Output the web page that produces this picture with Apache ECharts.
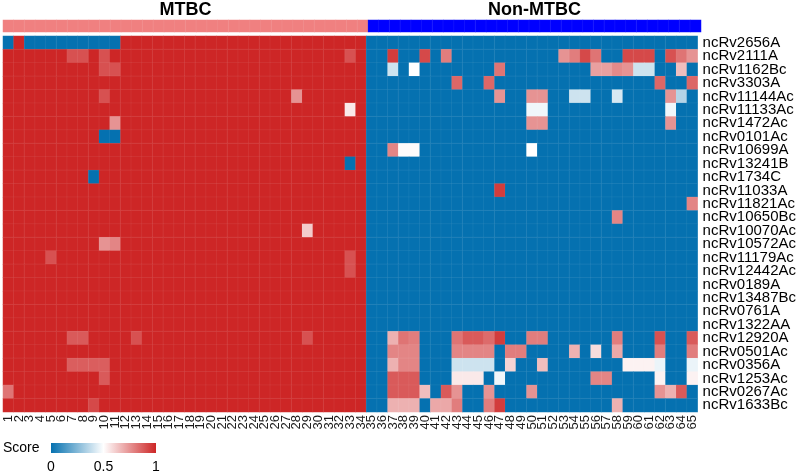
<!DOCTYPE html>
<html>
<head>
<meta charset="utf-8">
<script src="https://cdn.jsdelivr.net/npm/echarts@6/dist/echarts.min.js"></script>
<style>html,body{margin:0;padding:0;background:#fff}#c{width:799px;height:473px}</style>
</head>
<body>
<div id="c"></div>
<script>
const rowNames = ['ncRv2656A','ncRv2111A','ncRv1162Bc','ncRv3303A','ncRv11144Ac','ncRv11133Ac','ncRv1472Ac','ncRv0101Ac','ncRv10699A','ncRv13241B','ncRv1734C','ncRv11033A','ncRv11821Ac','ncRv10650Bc','ncRv10070Ac','ncRv10572Ac','ncRv11179Ac','ncRv12442Ac','ncRv0189A','ncRv13487Bc','ncRv0761A','ncRv1322AA','ncRv12920A','ncRv0501Ac','ncRv0356A','ncRv1253Ac','ncRv0267Ac','ncRv1633Bc'];

const colLabels = ['1','2','3','4','5','6','7','8','9','10','11','12','13','14','15','16','17','18','19','20','21','22','23','24','25','26','27','28','29','30','31','32','33','34','35','36','37','38','39','40','41','42','43','44','45','46','47','48','49','50','51','52','53','54','55','56','57','58','59','60','61','62','63','64','65'];

const groupNames = ['MTBC','Non-MTBC'];
// group index of each column (0 = MTBC, 1 = Non-MTBC)
const columnGroup = [0,0,0,0,0,0,0,0,0,0, 0,0,0,0,0,0,0,0,0,0, 0,0,0,0,0,0,0,0,0,0, 0,0,0,0,1,1,1,1,1,1, 1,1,1,1,1,1,1,1,1,1, 1,1,1,1,1,1,1,1,1,1, 1,1,1,1,1];

const legendTicks = [0, 0.5, 1];

// scores[row][column], columns 1..65
const scores = [
 [0,1,0,0,0,0,0,0,0,0, 0,1,1,1,1,1,1,1,1,1, 1,1,1,1,1,1,1,1,1,1, 1,1,1,1,0,0,0,0,0,0, 0,0,0,0,0,0,0,0,0,0, 0,0,0,0,0,0,0,0,0,0, 0,0,0,0,0],
 [1,1,1,1,1,1,.9,.9,1,.9, 1,1,1,1,1,1,1,1,1,1, 1,1,1,1,1,1,1,1,1,1, 1,1,.9,1,0,0,.95,0,0,.92, 0,.8,0,0,0,0,0,0,0,0, 0,0,.75,.8,.92,.82,0,0,.92,.92, .92,0,.9,.82,.75],
 [1,1,1,1,1,1,1,1,1,.9, .9,1,1,1,1,1,1,1,1,1, 1,1,1,1,1,1,1,1,1,1, 1,1,1,1,0,0,.4,0,.5,0, 0,0,0,0,0,0,.82,0,0,0, 0,0,0,0,0,.72,.72,.77,.75,.4, .4,0,0,.65,0],
 [1,1,1,1,1,1,1,1,1,1, 1,1,1,1,1,1,1,1,1,1, 1,1,1,1,1,1,1,1,1,1, 1,1,1,1,0,0,0,0,0,0, 0,0,.85,0,0,.85,0,0,0,0, 0,0,0,0,0,0,0,0,0,0, 0,.85,0,0,.85],
 [1,1,1,1,1,1,1,1,1,.9, 1,1,1,1,1,1,1,1,1,1, 1,1,1,1,1,1,1,.75,1,1, 1,1,1,1,0,0,0,0,0,0, 0,0,0,0,0,0,.75,0,0,.75, .75,0,0,.4,.4,0,0,.42,0,0, 0,0,.75,.35,0],
 [1,1,1,1,1,1,1,1,1,1, 1,1,1,1,1,1,1,1,1,1, 1,1,1,1,1,1,1,1,1,1, 1,1,.55,1,0,0,0,0,0,0, 0,0,0,0,0,0,0,0,0,.47, .47,0,0,0,0,0,0,0,0,0, 0,0,.47,0,0],
 [1,1,1,1,1,1,1,1,1,1, .75,1,1,1,1,1,1,1,1,1, 1,1,1,1,1,1,1,1,1,1, 1,1,1,1,0,0,0,0,0,0, 0,0,0,0,0,0,0,0,0,.75, .75,0,0,0,0,0,0,0,0,0, 0,0,.75,0,0],
 [1,1,1,1,1,1,1,1,1,0, 0,1,1,1,1,1,1,1,1,1, 1,1,1,1,1,1,1,1,1,1, 1,1,1,1,0,0,0,0,0,0, 0,0,0,0,0,0,0,0,0,0, 0,0,0,0,0,0,0,0,0,0, 0,0,0,0,0],
 [1,1,1,1,1,1,1,1,1,1, 1,1,1,1,1,1,1,1,1,1, 1,1,1,1,1,1,1,1,1,1, 1,1,1,1,0,0,.78,.51,.51,0, 0,0,0,0,0,0,0,0,0,.5, 0,0,0,0,0,0,0,0,0,0, 0,0,0,0,0],
 [1,1,1,1,1,1,1,1,1,1, 1,1,1,1,1,1,1,1,1,1, 1,1,1,1,1,1,1,1,1,1, 1,1,0,1,0,0,0,0,0,0, 0,0,0,0,0,0,0,0,0,0, 0,0,0,0,0,0,0,0,0,0, 0,0,0,0,0],
 [1,1,1,1,1,1,1,1,0,1, 1,1,1,1,1,1,1,1,1,1, 1,1,1,1,1,1,1,1,1,1, 1,1,1,1,0,0,0,0,0,0, 0,0,0,0,0,0,0,0,0,0, 0,0,0,0,0,0,0,0,0,0, 0,0,0,0,0],
 [1,1,1,1,1,1,1,1,1,1, 1,1,1,1,1,1,1,1,1,1, 1,1,1,1,1,1,1,1,1,1, 1,1,1,1,0,0,0,0,0,0, 0,0,0,0,0,0,.95,0,0,0, 0,0,0,0,0,0,0,0,0,0, 0,0,0,0,0],
 [1,1,1,1,1,1,1,1,1,1, 1,1,1,1,1,1,1,1,1,1, 1,1,1,1,1,1,1,1,1,1, 1,1,1,1,0,0,0,0,0,0, 0,0,0,0,0,0,0,0,0,0, 0,0,0,0,0,0,0,0,0,0, 0,0,0,0,.78],
 [1,1,1,1,1,1,1,1,1,1, 1,1,1,1,1,1,1,1,1,1, 1,1,1,1,1,1,1,1,1,1, 1,1,1,1,0,0,0,0,0,0, 0,0,0,0,0,0,0,0,0,0, 0,0,0,0,0,0,0,.78,0,0, 0,0,0,0,0],
 [1,1,1,1,1,1,1,1,1,1, 1,1,1,1,1,1,1,1,1,1, 1,1,1,1,1,1,1,1,.62,1, 1,1,1,1,0,0,0,0,0,0, 0,0,0,0,0,0,0,0,0,0, 0,0,0,0,0,0,0,0,0,0, 0,0,0,0,0],
 [1,1,1,1,1,1,1,1,1,.75, .78,1,1,1,1,1,1,1,1,1, 1,1,1,1,1,1,1,1,1,1, 1,1,1,1,0,0,0,0,0,0, 0,0,0,0,0,0,0,0,0,0, 0,0,0,0,0,0,0,0,0,0, 0,0,0,0,0],
 [1,1,1,1,.9,1,1,1,1,1, 1,1,1,1,1,1,1,1,1,1, 1,1,1,1,1,1,1,1,1,1, 1,1,.9,1,0,0,0,0,0,0, 0,0,0,0,0,0,0,0,0,0, 0,0,0,0,0,0,0,0,0,0, 0,0,0,0,0],
 [1,1,1,1,1,1,1,1,1,1, 1,1,1,1,1,1,1,1,1,1, 1,1,1,1,1,1,1,1,1,1, 1,1,.9,1,0,0,0,0,0,0, 0,0,0,0,0,0,0,0,0,0, 0,0,0,0,0,0,0,0,0,0, 0,0,0,0,0],
 [1,1,1,1,1,1,1,1,1,1, 1,1,1,1,1,1,1,1,1,1, 1,1,1,1,1,1,1,1,1,1, 1,1,1,1,0,0,0,0,0,0, 0,0,0,0,0,0,0,0,0,0, 0,0,0,0,0,0,0,0,0,0, 0,0,0,0,0],
 [1,1,1,1,1,1,1,1,1,1, 1,1,1,1,1,1,1,1,1,1, 1,1,1,1,1,1,1,1,1,1, 1,1,1,1,0,0,0,0,0,0, 0,0,0,0,0,0,0,0,0,0, 0,0,0,0,0,0,0,0,0,0, 0,0,0,0,0],
 [1,1,1,1,1,1,1,1,1,1, 1,1,1,1,1,1,1,1,1,1, 1,1,1,1,1,1,1,1,1,1, 1,1,1,1,0,0,0,0,0,0, 0,0,0,0,0,0,0,0,0,0, 0,0,0,0,0,0,0,0,0,0, 0,0,0,0,0],
 [1,1,1,1,1,1,1,1,1,1, 1,1,1,1,1,1,1,1,1,1, 1,1,1,1,1,1,1,1,1,1, 1,1,1,1,0,0,0,0,0,0, 0,0,0,0,0,0,0,0,0,0, 0,0,0,0,0,0,0,0,0,0, 0,0,0,0,0],
 [1,1,1,1,1,1,.88,.88,1,1, 1,1,.9,1,1,1,1,1,1,1, 1,1,1,1,1,1,1,1,.9,1, 1,1,1,1,0,0,.68,.82,.8,0, 0,0,.82,.88,.88,.84,.95,0,0,.8, .8,0,0,0,0,0,0,.8,0,0, 0,.9,0,0,.88],
 [1,1,1,1,1,1,1,1,1,1, 1,1,1,1,1,1,1,1,1,1, 1,1,1,1,1,1,1,1,1,1, 1,1,1,1,0,0,.78,.78,.78,0, 0,0,.78,.78,.78,.78,0,.8,.8,0, 0,0,0,.68,0,.58,0,.7,0,0, 0,.8,0,0,.8],
 [1,1,1,1,1,1,.87,.87,.87,.87, 1,1,1,1,1,1,1,1,1,1, 1,1,1,1,1,1,1,1,1,1, 1,1,1,1,0,0,.68,.78,.78,0, 0,0,.4,.4,.4,.4,0,.6,0,0, .65,0,0,0,0,0,0,0,.53,.53, .53,.46,0,0,.46],
 [1,1,1,1,1,1,1,1,1,.88, 1,1,1,1,1,1,1,1,1,1, 1,1,1,1,1,1,1,1,1,1, 1,1,1,1,0,0,.88,.88,.88,0, 0,0,.55,.55,.55,0,.47,0,0,0, 0,0,0,0,0,.78,.78,0,0,0, 0,.53,0,0,.53],
 [.82,1,1,1,1,1,1,1,1,1, 1,1,1,1,1,1,1,1,1,1, 1,1,1,1,1,1,1,1,1,1, 1,1,1,1,0,0,.88,.88,.88,.65, 0,.88,.75,0,0,.75,0,0,0,.75, 0,0,0,0,0,0,0,0,0,0, 0,.75,.68,.88,0],
 [1,1,1,1,1,1,1,1,.92,1, 1,1,1,1,1,1,1,1,1,1, 1,1,1,1,1,1,1,1,1,1, 1,1,1,1,0,0,.68,.68,.68,0, .7,.7,.8,0,0,.8,.95,0,0,0, 0,0,0,0,0,0,0,.68,0,0, 0,0,0,0,0]
];

const LOW = '#0571B0', MID = '#FFFFFF', HIGH = '#CD2626';
const GROUP_COLORS = ['#F08080', '#0000FF'];
const FONT = 'Liberation Sans, Arial, sans-serif';

// layout
const G_LEFT = 3, G_TOP = 36, G_W = 698, G_H = 376;
const A_TOP = 20, A_H = 12;

const heatData = [];
scores.forEach((row, r) => row.forEach((v, c) => heatData.push([c, r, v])));
const annoData = columnGroup.map((g, c) => [c, 0, g]);

const colW = G_W / colLabels.length;
function groupCenter(gi) {
  let first = -1, last = -1;
  columnGroup.forEach((g, i) => { if (g === gi) { if (first < 0) first = i; last = i; } });
  return G_LEFT + (first + last + 1) / 2 * colW;
}

const chart = echarts.init(document.getElementById('c'), null, {renderer: 'canvas'});

const LEG_X = 51, LEG_Y = 443, LEG_W = 105, LEG_H = 10;
const graphics = [
  {type: 'text', x: groupCenter(0), y: 10, style: {text: groupNames[0], font: 'bold 18px ' + FONT, fill: '#000', align: 'center', verticalAlign: 'middle', textAlign: 'center', textVerticalAlign: 'middle'}},
  {type: 'text', x: groupCenter(1), y: 10, style: {text: groupNames[1], font: 'bold 18px ' + FONT, fill: '#000', align: 'center', verticalAlign: 'middle', textAlign: 'center', textVerticalAlign: 'middle'}},
  {type: 'text', x: 3, y: 448, style: {text: 'Score', font: '14px ' + FONT, fill: '#000', align: 'left', verticalAlign: 'middle', textAlign: 'left', textVerticalAlign: 'middle'}},
  {type: 'rect', shape: {x: LEG_X, y: LEG_Y, width: LEG_W, height: LEG_H},
   style: {fill: new echarts.graphic.LinearGradient(0, 0, 1, 0, [{offset: 0, color: LOW}, {offset: 0.5, color: MID}, {offset: 1, color: HIGH}])}}
];
legendTicks.forEach(t => {
  graphics.push({type: 'text', x: LEG_X + t * LEG_W, y: 467,
    style: {text: String(t), font: '14px ' + FONT, fill: '#000', align: 'center', verticalAlign: 'middle', textAlign: 'center', textVerticalAlign: 'middle'}});
});

chart.setOption({
  animation: false,
  backgroundColor: '#fff',
  grid: [
    {left: G_LEFT, top: G_TOP, width: G_W, height: G_H},
    {left: G_LEFT, top: A_TOP, width: G_W, height: A_H}
  ],
  xAxis: [
    {type: 'category', gridIndex: 0, data: colLabels, position: 'bottom',
     axisLine: {show: false}, axisTick: {show: false}, splitLine: {show: false},
     axisLabel: {rotate: 90, interval: 0, margin: 3, fontSize: 13, color: '#1a1a1a', fontFamily: FONT}},
    {type: 'category', gridIndex: 1, data: colLabels, show: false}
  ],
  yAxis: [
    {type: 'category', gridIndex: 0, data: rowNames, inverse: true, position: 'right',
     axisLine: {show: false}, axisTick: {show: false}, splitLine: {show: false},
     axisLabel: {interval: 0, margin: 5, fontSize: 15, color: '#000', fontFamily: FONT}},
    {type: 'category', gridIndex: 1, data: ['group'], show: false}
  ],
  visualMap: [
    {type: 'continuous', show: false, min: 0, max: 1, seriesIndex: 0, dimension: 2,
     inRange: {color: [LOW, MID, HIGH]}},
    {type: 'piecewise', show: false, seriesIndex: 1, dimension: 2,
     pieces: [{value: 0, color: GROUP_COLORS[0]}, {value: 1, color: GROUP_COLORS[1]}]}
  ],
  series: [
    {type: 'heatmap', xAxisIndex: 0, yAxisIndex: 0, data: heatData,
     itemStyle: {borderColor: 'rgba(255,255,255,0.12)', borderWidth: 0.5},
     emphasis: {disabled: true}},
    {type: 'heatmap', xAxisIndex: 1, yAxisIndex: 1, data: annoData,
     itemStyle: {borderColor: 'rgba(255,255,255,0.12)', borderWidth: 0.5},
     emphasis: {disabled: true}}
  ],
  graphic: graphics
});
</script>
</body>
</html>
